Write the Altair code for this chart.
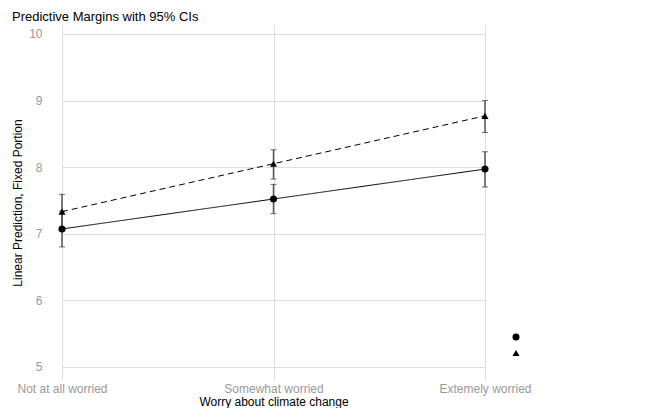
import altair as alt
import pandas as pd

worry_levels = ["Not at all worried", "Somewhat worried", "Extemely worried"]
groups = ["Not at all likely", "Extremely likely"]

est_not = [7.07, 7.52, 7.97]
lo_not = [6.80, 7.30, 7.70]
hi_not = [7.34, 7.74, 8.23]

est_ext = [7.33, 8.05, 8.77]
lo_ext = [7.07, 7.82, 8.52]
hi_ext = [7.59, 8.26, 9.00]

y_ticks = [5, 6, 7, 8, 9, 10]

rows = []
for g, est, lo, hi in [(groups[0], est_not, lo_not, hi_not), (groups[1], est_ext, lo_ext, hi_ext)]:
    for w, e, l, h in zip(worry_levels, est, lo, hi):
        rows.append({"worry": w, "group": g, "group_w": g, "group_d": g,
                     "est": e, "lo": l, "hi": h})
df = pd.DataFrame(rows)

FONT = "Liberation Sans"
LEG_TITLE = "Collective outcome expectancy"

x_enc = alt.X("worry:N", sort=worry_levels,
              scale=alt.Scale(type="point", range=[15, 438], padding=0),
              axis=alt.Axis(title="Worry about climate change", labelAngle=0, grid=True,
                            domain=False, ticks=False, labelPadding=3, titlePadding=2))
y_scale = alt.Scale(domain=[4.8, 10.135], nice=False, zero=False)
y_enc = alt.Y("est:Q", scale=y_scale,
              axis=alt.Axis(title="Linear Prediction, Fixed Portion", values=y_ticks,
                            format="d", domain=False, ticks=False, labelPadding=5,
                            titlePadding=4))

base = alt.Chart(df)

err = base.mark_rule(color="#555555", strokeWidth=1.5).encode(
    x=x_enc, y=alt.Y("lo:Q", scale=y_scale), y2="hi:Q")
cap_lo = base.mark_tick(color="#333333", orient="horizontal", size=6, thickness=1).encode(
    x=x_enc, y=alt.Y("lo:Q", scale=y_scale))
cap_hi = base.mark_tick(color="#333333", orient="horizontal", size=6, thickness=1).encode(
    x=x_enc, y=alt.Y("hi:Q", scale=y_scale))

lines = base.mark_line(color="black").encode(
    x=x_enc, y=y_enc,
    strokeDash=alt.StrokeDash("group_d:N", sort=groups,
                              scale=alt.Scale(domain=groups, range=[[1, 0], [6, 4]]),
                              legend=None),
    strokeWidth=alt.StrokeWidth("group_w:N", sort=groups,
                                scale=alt.Scale(domain=groups, range=[1, 1]),
                                legend=alt.Legend(
                                    title=LEG_TITLE, orient="none",
                                    legendX=435, legendY=288,
                                    symbolType="stroke", symbolSize=289,
                                    symbolOffset=23, labelOffset=14,
                                    symbolStrokeColor="black", symbolDash=[1, 0],
                                    rowPadding=2, titlePadding=6, zindex=0)),
    detail="group:N")

points = base.mark_point(filled=True, color="black", opacity=1, size=50).encode(
    x=x_enc, y=y_enc,
    shape=alt.Shape("group:N", sort=groups,
                    scale=alt.Scale(domain=groups, range=["circle", "triangle-up"]),
                    legend=alt.Legend(
                        title=LEG_TITLE, orient="none",
                        legendX=435, legendY=288,
                        symbolSize=50, symbolOffset=28, labelOffset=14,
                        symbolFillColor="black", symbolStrokeColor="black",
                        titleOpacity=0, labelOpacity=0,
                        rowPadding=2, titlePadding=6, zindex=1)))

chart = alt.layer(err, cap_lo, cap_hi, lines, points).resolve_scale(
    shape="independent", strokeWidth="independent", strokeDash="independent"
).resolve_legend(
    shape="independent", strokeWidth="independent"
).properties(
    width=445, height=355,
    title=alt.TitleParams("Predictive Margins with 95% CIs", anchor="start", frame="group",
                          dx=-35, offset=1, font=FONT, fontSize=13, fontWeight="normal",
                          color="black"),
    autosize=alt.AutoSizeParams(type="none"),
    padding={"left": 39, "top": 17, "right": 156, "bottom": 28},
).configure_view(stroke=None).configure_axis(
    labelFont=FONT, titleFont=FONT, labelFontSize=12, titleFontSize=12,
    labelColor="#9a9a9a", titleColor="black", titleFontWeight="normal",
    gridColor="#dedede", gridWidth=1
).configure_legend(
    labelFont=FONT, titleFont=FONT, labelFontSize=12, titleFontSize=12,
    labelColor="#9a9a9a", titleColor="black", titleFontWeight="normal"
)

chart.save("out.html", embed_options={"renderer": "svg", "actions": False})
